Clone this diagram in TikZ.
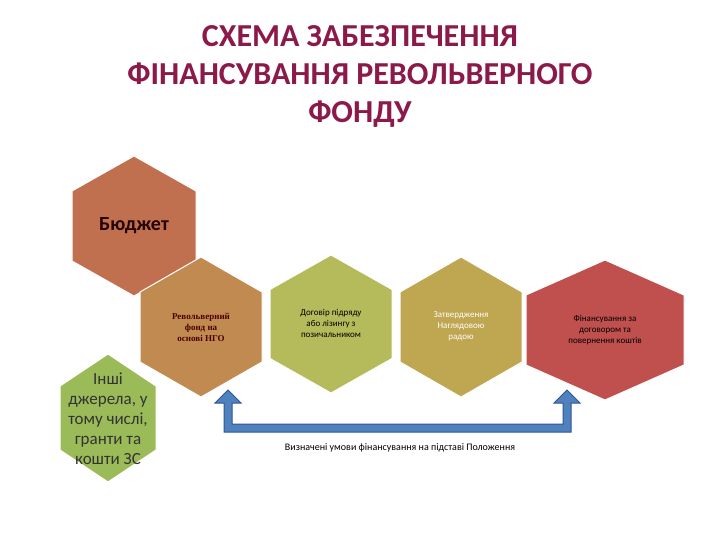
\documentclass[tikz,border=0pt]{standalone}
\usepackage{fontspec}
\setmainfont{Carlito}
\newfontfamily\serifb{Liberation Serif}
\begin{document}
\begin{tikzpicture}[x=1pt,y=-1pt,
  hex/.style={draw=white,line width=1pt},
  lbl/.style={align=center,font=\fontsize{9}{11}\selectfont}]
\useasboundingbox (0,0) rectangle (720,540);
\newcommand\hexa[6]{%
  \fill[#6,draw=white,line width=1pt] (#2,#3-#5) -- (#2+#4,#3-#5/2) -- (#2+#4,#3+#5/2) -- (#2,#3+#5) -- (#2-#4,#3+#5/2) -- (#2-#4,#3-#5/2) -- cycle;}
\definecolor{c1}{HTML}{C0704F}
\definecolor{c2}{HTML}{C08A50}
\definecolor{c3}{HTML}{B5BA5A}
\definecolor{c4}{HTML}{BFA650}
\definecolor{c5}{HTML}{C0504D}
\definecolor{c6}{HTML}{9BBB59}
\definecolor{tt}{HTML}{8B1A4A}
\node[text=tt,font=\fontsize{32}{38}\selectfont\bfseries,align=center] (title) at (360,76) {СХЕМА ЗАБЕЗПЕЧЕННЯ\\ФІНАНСУВАННЯ  РЕВОЛЬВЕРНОГО\\ФОНДУ};
\hexa{a}{134}{226}{62}{70}{c1}
\node[font=\fontsize{20}{24}\selectfont\bfseries,text=black!85!red] (a) at (134,226) {Бюджет};
\hexa{b}{201}{327}{61}{70}{c2}
\node[lbl,font=\serifb\fontsize{9}{11}\selectfont\bfseries,text=black!70!red] (b) at (201,327) {Револьверний\\фонд на\\основі НГО};
\hexa{c}{331}{324}{61}{69}{c3}
\node[lbl] (c) at (331,323) {Договір підряду\\або лізингу з\\позичальником};
\hexa{d}{461}{327}{61}{70}{c4}
\node[lbl,text=white] (d) at (461,326) {Затвердження\\Наглядовою\\радою};
\hexa{e}{605}{330}{79}{70}{c5}
\node[lbl] (e) at (605,330) {Фінансування за\\договором та\\повернення коштів};
\hexa{f}{108}{418}{48}{64}{c6}
\node[align=center,font=\fontsize{17}{20}\selectfont,text=black!80] (f) at (108,419) {Інші\\джерела, у\\тому числі,\\гранти та\\кошти ЗС};
\fill[fill={rgb,255:red,79;green,129;blue,189},draw={rgb,255:red,47;green,85;blue,151},line width=1pt]
 (228,390) -- (241,403) -- (232,403) -- (232,424) -- (563,424) -- (563,403) -- (554,403) -- (567,390) -- (580,403) -- (571,403) -- (571,432) -- (224,432) -- (224,403) -- (215,403) -- cycle;
\node[font=\fontsize{10}{12}\selectfont] (g) at (400,448) {Визначені умови фінансування на підставі Положення};
\end{tikzpicture}
\end{document}
